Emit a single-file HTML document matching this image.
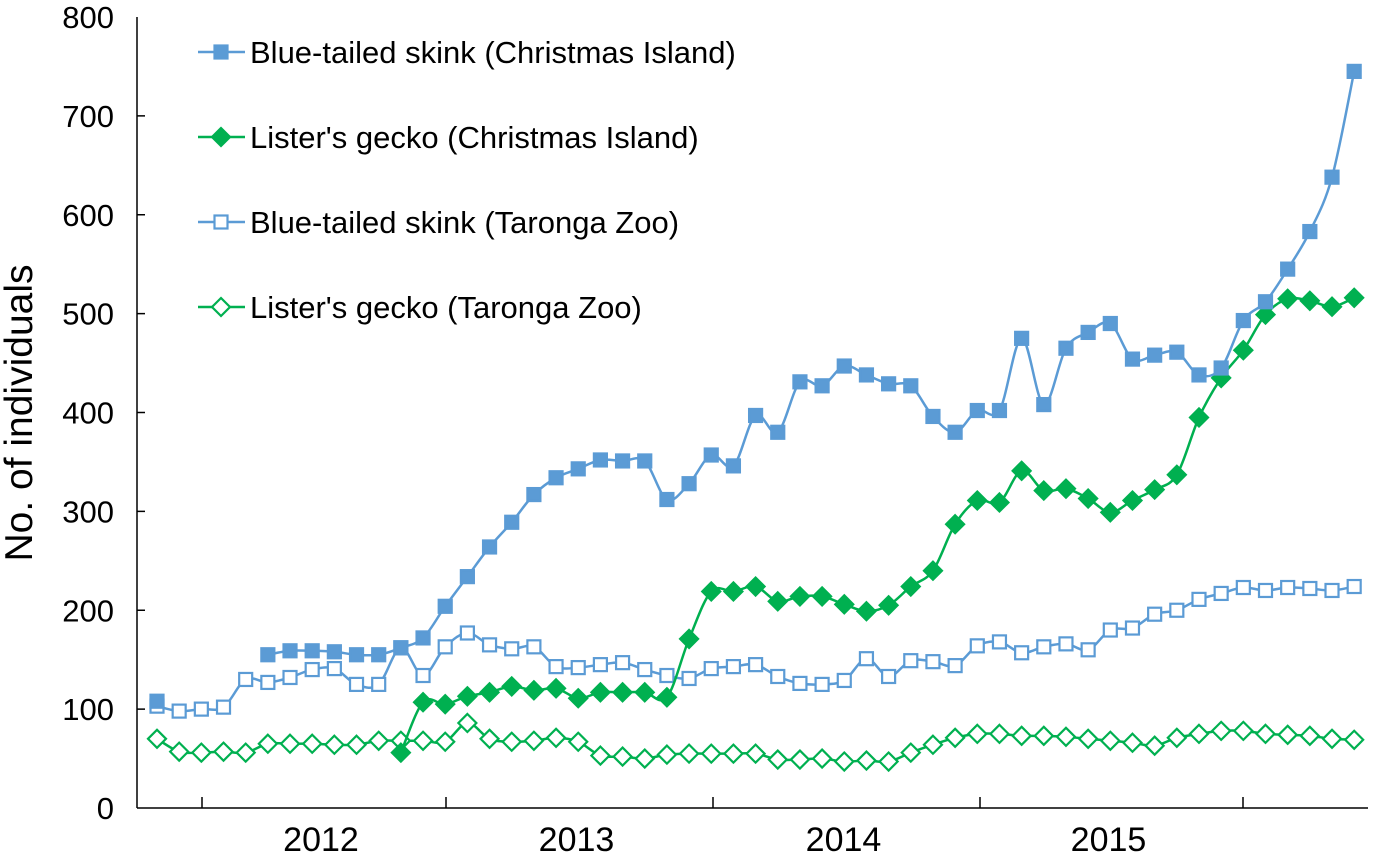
<!DOCTYPE html>
<html><head><meta charset="utf-8"><style>
body{margin:0;background:#fff;}
svg{display:block;font-family:"Liberation Sans",Arial,sans-serif;}
</style></head><body>
<svg id="chart" width="1400" height="855">
<g id="axes"></g><g id="series"></g><g id="legend"></g>
</svg>
<script>
const yTicks=[0,100,200,300,400,500,600,700,800];
const yearLabels=["2012","2013","2014","2015"];
const skinkCI=[108,null,null,null,null,155,159,159,158,155,155,162,172,204,234,264,289,317,334,343,352,351,351,312,328,357,346,397,380,431,427,447,438,429,427,396,380,402,402,475,408,465,481,490,454,458,461,438,445,493,512,545,583,638,745];
const geckoCI=[null,null,null,null,null,null,null,null,null,null,null,56,107,105,113,117,123,119,121,111,117,117,117,112,171,219,219,224,209,214,214,206,199,205,224,240,287,311,309,341,321,323,313,299,311,322,337,395,435,463,499,515,513,507,516];
const skinkTZ=[103,98,100,102,130,127,132,140,141,125,125,162,134,163,177,165,161,163,143,142,145,147,140,134,131,141,143,145,133,126,125,129,151,133,149,148,144,164,168,157,163,166,160,180,182,196,200,211,217,223,220,223,222,220,224];
const geckoTZ=[70,57,56,57,56,65,65,65,64,64,68,68,68,67,86,70,67,68,71,67,53,52,50,54,55,55,55,55,49,49,50,47,48,47,56,64,71,75,75,73,73,72,70,68,66,63,71,75,78,78,75,74,73,70,69];
const seriesNames=["Blue-tailed skink (Christmas Island)","Lister's gecko (Christmas Island)","Blue-tailed skink (Taronga Zoo)","Lister's gecko (Taronga Zoo)"];

const NS="http://www.w3.org/2000/svg";
const X0=137,X1=1368,Y0=808,Y1=17;
const xs=i=>157+i*22.17;
const ys=v=>Y0-(v/800)*(Y0-Y1);
function mk(tag,attrs,parent){const e=document.createElementNS(NS,tag);for(const k in attrs)e.setAttribute(k,attrs[k]);parent.appendChild(e);return e;}
const axes=document.getElementById('axes'),ser=document.getElementById('series'),leg=document.getElementById('legend');
let a=mk('line',{x1:X0,y1:Y1,x2:X0,y2:Y0,stroke:'#000','stroke-width':1.5},axes);

a=mk('line',{x1:X0,y1:Y0,x2:X1,y2:Y0,stroke:'#000','stroke-width':1.5},axes);

yTicks.forEach(v=>{
 if(v>0&&v<800){const t=mk('line',{x1:X0,x2:X0+8,y1:ys(v),y2:ys(v),stroke:'#000','stroke-width':1.5},axes);
 }
 const l=mk('text',{x:114,y:ys(v)+11,'text-anchor':'end','font-size':31},axes);l.textContent=v;
 
});
const tickX=[202,446,713,980,1243];
tickX.forEach(x=>{const t=mk('line',{x1:x,x2:x,y1:Y0-11,y2:Y0,stroke:'#000','stroke-width':1.5},axes);
 });
yearLabels.forEach((y,k)=>{const l=mk('text',{x:(tickX[k]+tickX[k+1])/2-3,y:851,'text-anchor':'middle','font-size':34},axes);l.textContent=y;
 });
const yt=mk('text',{x:0,y:0,transform:'translate(32,413) rotate(-90)','text-anchor':'middle','font-size':39},axes);yt.textContent='No. of individuals';


function smoothPath(pts){
 let d='';
 pts.forEach((seg)=>{
  for(let i=0;i<seg.length;i++){
   const p=seg[i];
   if(i===0){d+=`M${p[0]},${p[1]}`;continue;}
   const p0=seg[Math.max(i-2,0)],p1=seg[i-1],p3=seg[Math.min(i+1,seg.length-1)];
   const c1=[p1[0]+(p[0]-p0[0])/6,p1[1]+(p[1]-p0[1])/6],c2=[p[0]-(p3[0]-p1[0])/6,p[1]-(p3[1]-p1[1])/6];
   d+=`C${c1[0]},${c1[1]} ${c2[0]},${c2[1]} ${p[0]},${p[1]}`;
  }
 });return d;
}
function marker(x,y,shape,color,filled,parent){
 let m;
 if(shape==='sq') m=mk('rect',{x:x-6.5,y:y-6.5,width:13,height:13},parent);
 else m=mk('polygon',{points:`${x},${y-9} ${x+9},${y} ${x},${y+9} ${x-9},${y}`},parent);
 m.setAttribute('fill',filled?color:'#fff');m.setAttribute('stroke',color);m.setAttribute('stroke-width',2.2);
 return m;
}
const defs=[[skinkCI,'sq','#5b9bd5',true],[geckoCI,'di','#00b050',true],[skinkTZ,'sq','#5b9bd5',false],[geckoTZ,'di','#00b050',false]];
const names=['skink-christmas-island','gecko-christmas-island','skink-taronga-zoo','gecko-taronga-zoo'];
[3,2,1,0].forEach(k=>{
 const [data,shape,color,filled]=defs[k];
 const g=mk('g',{},ser);
 
 const segs=[];let cur=[];
 data.forEach((v,i)=>{if(v==null){if(cur.length)segs.push(cur);cur=[];}else cur.push([xs(i),ys(v)]);});
 if(cur.length)segs.push(cur);
 const p=mk('path',{d:smoothPath(segs),fill:'none',stroke:color,'stroke-width':2.5},g);
 
 data.forEach((v,i)=>{if(v==null)return;const m=marker(xs(i),ys(v),shape,color,filled,g);
  });
});
seriesNames.forEach((n,k)=>{
 const [,shape,color,filled]=defs[k];const y=52+k*85;
 const g=mk('g',{},leg);
 
 mk('line',{x1:198,x2:245,y1:y,y2:y,stroke:color,'stroke-width':2.5},g);
 marker(221,y,shape,color,filled,g);
 const t=mk('text',{x:250,y:y+11,'font-size':31},g);t.textContent=n;
});
</script>
</body></html>
